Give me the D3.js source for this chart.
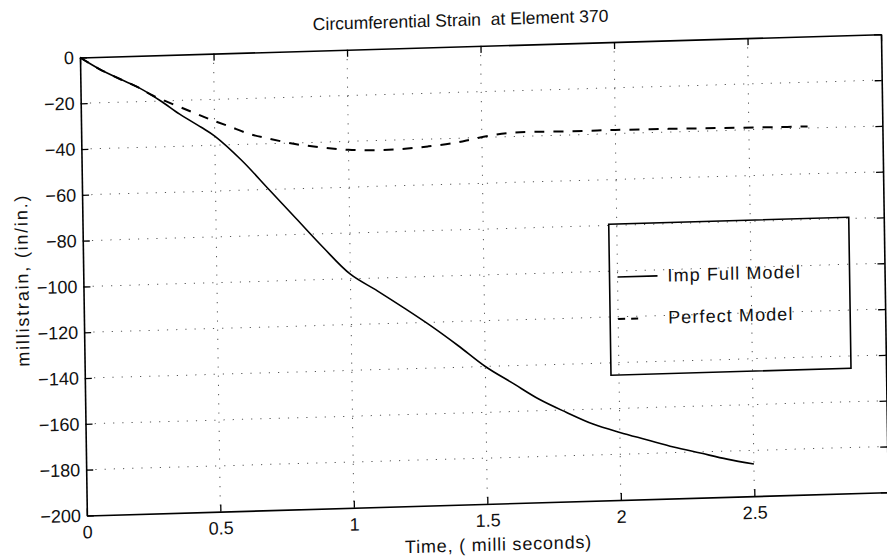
<!DOCTYPE html>
<html>
<head>
<meta charset="utf-8">
<script src="https://cdn.jsdelivr.net/npm/d3@7"></script>
<style>
  html, body { margin: 0; padding: 0; background: #fff; }
  svg { display: block; }
  text { font-family: "Liberation Sans", Arial, Helvetica, sans-serif; fill: #111; white-space: pre; }
</style>
</head>
<body>
<svg id="chart" width="887" height="559"></svg>
<script>
// ---- data ----
const titleText = "Circumferential Strain  at Element 370";
const xLabelText = "Time, ( milli seconds)";
const yLabelText = "millistrain, (in/in.)";

const xTickLabels = [0, 0.5, 1, 1.5, 2, 2.5];
const xTickAll = [0, 0.5, 1, 1.5, 2, 2.5, 3];
const yTicks = [0, -20, -40, -60, -80, -100, -120, -140, -160, -180, -200];

const seriesNames = ["Imp Full Model", "Perfect Model"];

const timeImp = [0, 0.075, 0.15, 0.22, 0.3, 0.37, 0.45, 0.5, 0.6, 0.7, 0.8, 0.9, 1.0, 1.1, 1.2, 1.3, 1.4, 1.5, 1.6, 1.7, 1.8, 1.9, 2.0, 2.1, 2.2, 2.3, 2.4, 2.5];
const strainImp = [0, -5.5, -10, -14, -20, -26, -32, -36, -47, -60, -73, -86, -98, -105.6, -113.5, -121.7, -130.6, -140, -147.5, -155, -161, -166.5, -170.5, -174, -177.5, -180.5, -183.5, -186];

const timePerf = [0, 0.075, 0.15, 0.22, 0.27, 0.35, 0.42, 0.48, 0.55, 0.63, 0.7, 0.8, 0.9, 1.0, 1.1, 1.2, 1.3, 1.4, 1.47, 1.55, 1.62, 1.7, 1.8, 1.9, 2.0, 2.2, 2.4, 2.6, 2.72];
const strainPerf = [0, -5.5, -10, -14, -17.5, -21.8, -25.4, -28.5, -31.7, -35.5, -37.7, -40.5, -42.3, -43.7, -44.2, -44, -43.2, -42, -40.5, -39, -38.3, -38.2, -38.4, -38.4, -38.4, -38.6, -38.9, -39.2, -39.3];

// ---- layout ----
const W = 801, H = 458;
const svg = d3.select("#chart");
// scanned page: slight rotation/skew
const g = svg.append("g").attr("transform", "matrix(1,-0.029,0.015,1,80,57.5)");

const x = d3.scaleLinear().domain([0, 3]).range([0, W]);
const y = d3.scaleLinear().domain([-200, 0]).range([H, 0]);

// grid
const grid = g.append("g").attr("stroke", "#555").attr("stroke-width", 1).attr("stroke-dasharray", "1.2,8");
grid.selectAll("line.h").data(yTicks.filter(d => d !== 0 && d !== -200)).join("line")
  .attr("x1", 0).attr("x2", W).attr("y1", d => y(d)).attr("y2", d => y(d));
grid.selectAll("line.v").data(xTickAll.filter(d => d !== 0 && d !== 3)).join("line")
  .attr("y1", 0).attr("y2", H).attr("x1", d => x(d)).attr("x2", d => x(d));

function styleAxis(sel) {
  sel.select(".domain").attr("stroke", "#000").attr("stroke-width", 1.6);
  sel.selectAll(".tick line").attr("stroke", "#000").attr("stroke-width", 1.3);
  sel.selectAll(".tick text").attr("font-size", 18).attr("fill", "#111")
    .attr("font-family", "'Liberation Sans', Arial, sans-serif");
}

// axes
const fmt = d => d3.format("")(d).replace("-", "\u2212");
const xAxis = g.append("g").attr("transform", `translate(0,${H})`)
  .call(d3.axisBottom(x).tickValues(xTickLabels).tickFormat(d => String(d)).tickSizeInner(-7).tickSizeOuter(0).tickPadding(10));
styleAxis(xAxis);
const yAxis = g.append("g")
  .call(d3.axisLeft(y).tickValues(yTicks).tickFormat(fmt).tickSizeInner(-7).tickSizeOuter(0).tickPadding(6));
styleAxis(yAxis);
const xTop = g.append("g")
  .call(d3.axisTop(x).tickValues(xTickAll).tickFormat("").tickSizeInner(-7).tickSizeOuter(0));
styleAxis(xTop);
const yRight = g.append("g").attr("transform", `translate(${W},0)`)
  .call(d3.axisRight(y).tickValues(yTicks).tickFormat("").tickSizeInner(-7).tickSizeOuter(0));
styleAxis(yRight);

// lines
const lineGen = d3.line().x(d => x(d[0])).y(d => y(d[1])).curve(d3.curveCatmullRom.alpha(0.5));
const impData = timeImp.map((t, i) => [t, strainImp[i]]);
const perfData = timePerf.map((t, i) => [t, strainPerf[i]]);

g.append("path").datum(perfData).attr("d", lineGen)
  .attr("fill", "none").attr("stroke", "#000").attr("stroke-width", 2).attr("stroke-dasharray", "10,9");
g.append("path").datum(impData).attr("d", lineGen)
  .attr("fill", "none").attr("stroke", "#000").attr("stroke-width", 1.6);

// title and labels
g.append("text").attr("x", 381).attr("y", -20.5).attr("text-anchor", "middle")
  .attr("font-size", 17.5).text(titleText);
g.append("text").attr("x", 411).attr("y", 505).attr("text-anchor", "middle")
  .attr("font-size", 18).attr("letter-spacing", 0.8).text(xLabelText);
g.append("text").attr("transform", "translate(-55,221) rotate(-90)").attr("text-anchor", "middle")
  .attr("font-size", 18).attr("letter-spacing", 1.8).text(yLabelText);

// legend
const lg = g.append("g").attr("transform", "translate(526,182)");
lg.append("rect").attr("x", 0).attr("y", 0).attr("width", 240).attr("height", 151)
  .attr("fill", "none").attr("stroke", "#000").attr("stroke-width", 1.6);
const legendRows = [
  { name: seriesNames[0], dash: null, y: 53, len: 40 },
  { name: seriesNames[1], dash: "7,6", y: 95, len: 20 }
];
legendRows.forEach(r => {
  lg.append("line").attr("x1", 8).attr("x2", 8 + r.len).attr("y1", r.y).attr("y2", r.y)
    .attr("stroke", "#000").attr("stroke-width", r.dash ? 2 : 1.6)
    .attr("stroke-dasharray", r.dash);
  lg.append("text").attr("x", 58).attr("y", r.y + 6).attr("font-size", 18)
    .attr("letter-spacing", 1.1).text(r.name);
});
</script>
</body>
</html>
